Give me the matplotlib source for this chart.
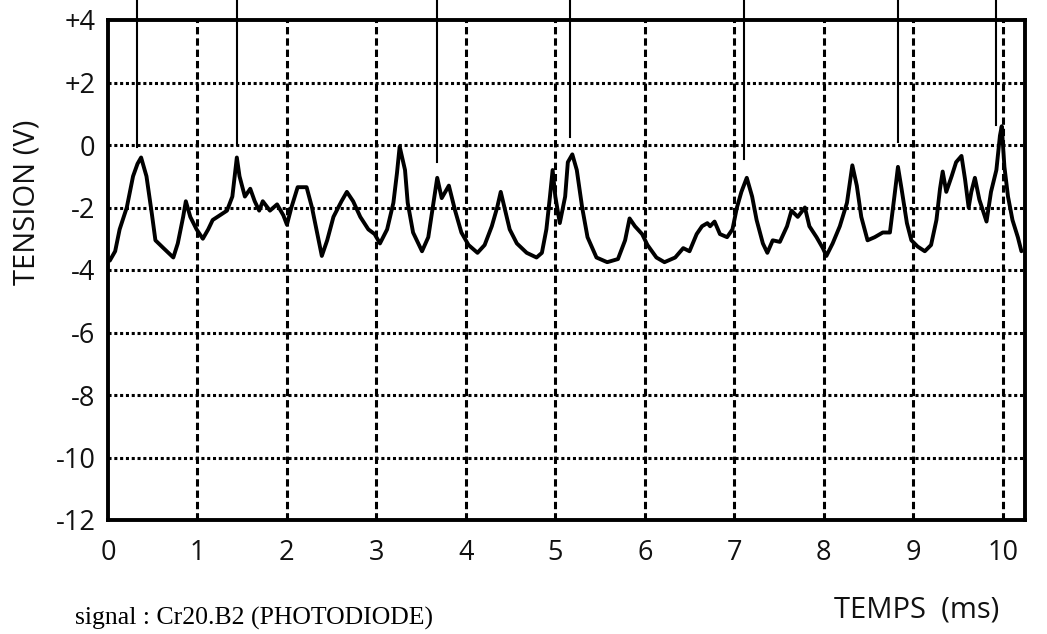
import matplotlib
matplotlib.use("Agg")
import matplotlib.pyplot as plt

# --- data ---
time_ms = [0.02, 0.08, 0.13, 0.21, 0.28, 0.33, 0.37, 0.43, 0.49, 0.53, 0.62, 0.73, 0.78, 0.84, 0.87,
           0.92, 0.99, 1.06, 1.12, 1.17, 1.25, 1.33, 1.39, 1.44, 1.47, 1.53, 1.59, 1.64, 1.69, 1.73,
           1.81, 1.89, 1.96, 2.00, 2.05, 2.12, 2.22, 2.28, 2.33, 2.39, 2.45, 2.52, 2.61, 2.67, 2.74,
           2.82, 2.91, 2.98, 3.04, 3.12, 3.19, 3.23, 3.26, 3.32, 3.35, 3.41, 3.51, 3.58, 3.63, 3.68,
           3.73, 3.81, 3.88, 3.95, 4.03, 4.13, 4.21, 4.29, 4.35, 4.39, 4.44, 4.49, 4.57, 4.68, 4.79,
           4.85, 4.90, 4.94, 4.97, 5.00, 5.05, 5.11, 5.14, 5.19, 5.24, 5.30, 5.36, 5.46, 5.58, 5.70,
           5.78, 5.83, 5.89, 5.97, 6.03, 6.13, 6.22, 6.34, 6.43, 6.50, 6.58, 6.64, 6.70, 6.73, 6.78,
           6.84, 6.92, 6.98, 7.03, 7.08, 7.14, 7.20, 7.25, 7.32, 7.37, 7.43, 7.51, 7.59, 7.64, 7.71,
           7.79, 7.84, 7.92, 7.99, 8.03, 8.10, 8.18, 8.26, 8.32, 8.37, 8.42, 8.49, 8.57, 8.66, 8.74,
           8.79, 8.83, 8.87, 8.93, 8.98, 9.05, 9.13, 9.20, 9.26, 9.30, 9.33, 9.37, 9.43, 9.48, 9.54,
           9.58, 9.62, 9.65, 9.69, 9.74, 9.82, 9.87, 9.93, 9.97, 9.99, 10.02, 10.06, 10.11, 10.17, 10.21]
tension_v = [-3.7, -3.4, -2.7, -2.0, -1.0, -0.6, -0.4, -1.0, -2.2, -3.05, -3.3, -3.6, -3.15, -2.3, -1.8,
             -2.3, -2.7, -3.0, -2.7, -2.4, -2.25, -2.1, -1.65, -0.4, -1.0, -1.65, -1.4, -1.8, -2.1, -1.8,
             -2.1, -1.9, -2.25, -2.55, -2.0, -1.35, -1.35, -2.0, -2.7, -3.55, -3.05, -2.3, -1.8, -1.5, -1.8,
             -2.3, -2.7, -2.85, -3.15, -2.7, -1.85, -0.9, -0.05, -0.8, -1.85, -2.8, -3.4, -2.95, -2.0, -1.05,
             -1.7, -1.3, -2.1, -2.8, -3.2, -3.45, -3.2, -2.6, -2.0, -1.5, -2.1, -2.7, -3.15, -3.45, -3.6,
             -3.45, -2.7, -1.65, -0.8, -1.65, -2.5, -1.65, -0.55, -0.3, -0.8, -2.0, -2.95, -3.6, -3.75, -3.65,
             -3.05, -2.35, -2.6, -2.85, -3.2, -3.6, -3.75, -3.6, -3.3, -3.4, -2.85, -2.6, -2.5, -2.6, -2.45,
             -2.85, -2.95, -2.7, -2.0, -1.5, -1.05, -1.65, -2.4, -3.15, -3.45, -3.05, -3.1, -2.6, -2.1, -2.3,
             -2.0, -2.6, -2.95, -3.3, -3.55, -3.15, -2.6, -1.85, -0.65, -1.3, -2.3, -3.05, -2.95, -2.8, -2.8,
             -1.65, -0.7, -1.4, -2.5, -3.05, -3.25, -3.4, -3.2, -2.4, -1.4, -0.85, -1.5, -1.0, -0.55, -0.35,
             -1.1, -2.0, -1.5, -1.05, -1.75, -2.45, -1.5, -0.8, 0.3, 0.6, -0.7, -1.65, -2.4, -2.95, -3.4]

marker_t = [0.32, 1.44, 3.68, 5.16, 7.11, 8.83, 9.93]
marker_v = [-0.05, 0.0, -0.55, 0.25, -0.45, 0.1, 0.65]

x_ticks = [0, 1, 2, 3, 4, 5, 6, 7, 8, 9, 10]
x_labels = ["0", "1", "2", "3", "4", "5", "6", "7", "8", "9", "10"]
y_ticks = [4, 2, 0, -2, -4, -6, -8, -10, -12]
y_labels = ["+4", "+2", "0", "-2", "-4", "-6", "-8", "-10", "-12"]
h_grid = [2, 0, -2, -4, -6, -8, -10]
v_grid = [1, 2, 3, 4, 5, 6, 7, 8, 9, 10]

plt.rcParams['font.family'] = ['Open Sans', 'DejaVu Sans']

fig = plt.figure(figsize=(10.47, 6.34), dpi=100)
ax = fig.add_axes([108/1047, 1 - 520/634, (1025 - 108)/1047, 500/634])
ax.set_xlim(0, 10.25)
ax.set_ylim(-12, 4)

for y in h_grid:
    ax.axhline(y, color='black', lw=2.2, linestyle=(0, (1, 0.9)), zorder=1)
for x in v_grid:
    ax.axvline(x, color='black', lw=2.2, linestyle=(0, (2.4, 1.3)), zorder=1)

ax.plot(time_ms, tension_v, color='black', lw=2.8, zorder=3,
        solid_joinstyle='round', solid_capstyle='round')

for t, v in zip(marker_t, marker_v):
    ax.plot([t, t], [v, 5.0], color='black', lw=1.5, clip_on=False, zorder=4)

for s in ax.spines.values():
    s.set_linewidth(2.8)
    s.set_color('black')

ax.set_xticks(x_ticks, labels=x_labels)
ax.set_yticks(y_ticks, labels=y_labels)
ax.tick_params(axis='both', length=0, labelsize=19.5, colors='#111111')
ax.tick_params(axis='x', pad=14)
ax.tick_params(axis='y', pad=9)

fig.text(27/1047, 1 - 202/634, "TENSION (V)", rotation=90, fontsize=21,
         ha='center', va='center', color='#111111')
fig.text(917/1047, 1 - 610/634, "TEMPS  (ms)", fontsize=21,
         ha='center', va='center', color='#111111')
fig.text(75/1047, 1 - 618/634, "signal : Cr20.B2 (PHOTODIODE)", fontsize=18.5,
         family='Liberation Serif', ha='left', va='center', color='black')

fig.savefig("out.png", dpi=100)
